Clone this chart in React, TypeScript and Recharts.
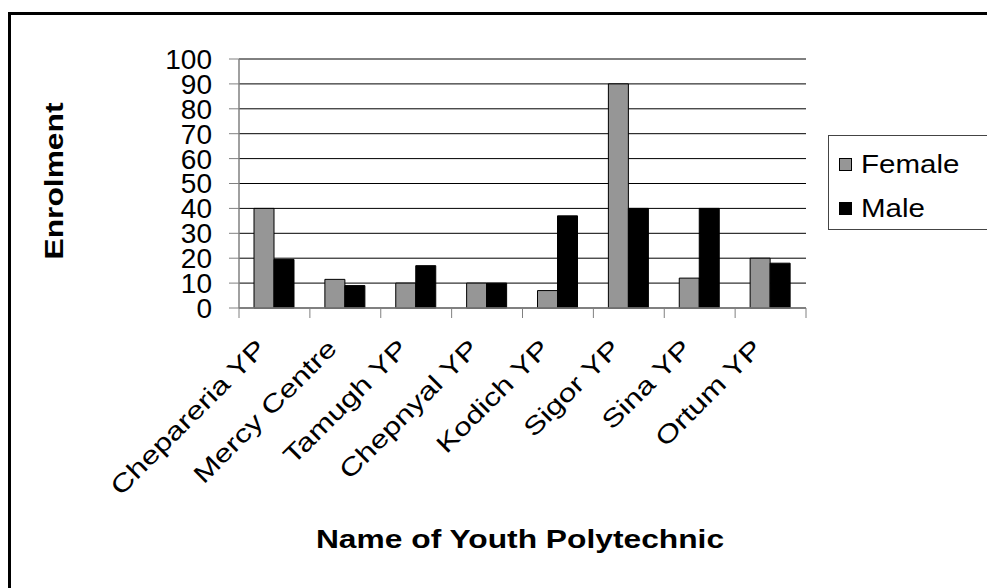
import { BarChart, Bar, XAxis, YAxis, CartesianGrid, Legend } from 'recharts'

const schools = ['Chepareria YP', 'Mercy Centre', 'Tamugh YP', 'Chepnyal YP', 'Kodich YP', 'Sigor YP', 'Sina YP', 'Ortum YP']
const female = [40, 11.5, 10, 10, 7, 90, 12, 20]
const male = [19.5, 9, 17, 10, 37, 40, 40, 18]
const yTicks = [0, 10, 20, 30, 40, 50, 60, 70, 80, 90, 100]

const data = schools.map((name, i) => ({ name, Female: female[i], Male: male[i] }))

const FONT = '"Liberation Sans", Arial, Helvetica, sans-serif'
const W = 987
const H = 588
const PLOT_LEFT = 239
const PLOT_RIGHT = 806
const PLOT_TOP = 59
const PLOT_BOTTOM = 308
const band = (PLOT_RIGHT - PLOT_LEFT) / schools.length
// the original's lettering is stretched along the text direction
const STRETCH = 1.27

const XTick = (props: any) => {
  const { x, y, payload } = props
  const idx = props.index ?? payload.index
  const half = band / 2
  const tx = x - 7
  const ty = y + 42
  return (
    <g>
      <line x1={x - half} x2={x - half} y1={y} y2={y + 10} stroke="#808080" />
      {idx === schools.length - 1 && (
        <line x1={x + half} x2={x + half} y1={y} y2={y + 10} stroke="#808080" />
      )}
      <g transform={`translate(${tx} ${ty}) rotate(-45) scale(${STRETCH} 1)`}>
        <text x={0} y={0} textAnchor="end" fontSize={25} fontFamily={FONT} fill="#000">
          {payload.value}
        </text>
      </g>
    </g>
  )
}

const LegendBox = (props: any) => {
  const { payload } = props
  return (
    <div
      style={{
        width: 160,
        height: 95,
        border: '1px solid #444',
        background: '#fff',
        boxSizing: 'border-box',
        paddingTop: 10,
        paddingLeft: 10,
        fontFamily: FONT,
        textAlign: 'left',
      }}
    >
      {payload.map((p: any) => (
        <div key={p.value} style={{ display: 'flex', alignItems: 'center', height: 36, marginBottom: 8 }}>
          <span
            style={{
              width: 11,
              height: 11,
              background: p.color,
              border: '1px solid #000',
              display: 'inline-block',
              marginRight: 9,
            }}
          />
          <span
            style={{
              fontSize: 25,
              color: '#000',
              display: 'inline-block',
              transform: 'scaleX(1.18)',
              transformOrigin: 'left center',
            }}
          >
            {p.value}
          </span>
        </div>
      ))}
    </div>
  )
}

export default function App() {
  return (
    <div style={{ position: 'absolute', left: 0, top: 0, width: W, height: H, overflow: 'hidden', background: '#fff' }}>
      <div
        style={{
          position: 'absolute',
          left: 8,
          top: 12,
          width: 1100,
          height: 700,
          border: '3px solid #000',
        }}
      />
      <BarChart
        width={W}
        height={H}
        data={data}
        margin={{ top: PLOT_TOP, right: W - PLOT_RIGHT, left: PLOT_LEFT - 70, bottom: 80 }}
        barGap={0}
        barSize={20}
        style={{ position: 'absolute', left: 0, top: 0 }}
      >
        <CartesianGrid vertical={false} horizontal stroke="#000" />
        <XAxis
          dataKey="name"
          height={H - PLOT_BOTTOM - 80}
          interval={0}
          tickLine={false}
          tickSize={0}
          tickMargin={0}
          axisLine={{ stroke: '#808080', strokeWidth: 1.5 }}
          tick={<XTick />}
        />
        <YAxis
          width={70}
          domain={[0, 100]}
          ticks={yTicks}
          interval={0}
          tickSize={10}
          tickMargin={17}
          tickLine={{ stroke: '#808080' }}
          axisLine={{ stroke: '#808080', strokeWidth: 1.5 }}
          tick={{ fontSize: 28, fill: '#000', fontFamily: FONT }}
        />
        <YAxis
          yAxisId="frame"
          orientation="right"
          width={0}
          domain={[0, 100]}
          tick={false}
          tickLine={false}
          axisLine={{ stroke: '#808080', strokeWidth: 1.5 }}
        />
        <Legend
          layout="vertical"
          align="center"
          verticalAlign="middle"
          content={<LegendBox />}
          wrapperStyle={{ position: 'absolute', left: 828, top: 135, width: 160, height: 95 }}
        />
        <Bar dataKey="Female" fill="#969696" stroke="#000" strokeWidth={1} isAnimationActive={false} />
        <Bar dataKey="Male" fill="#000" stroke="#000" strokeWidth={1} isAnimationActive={false} />
      </BarChart>
      <div
        style={{
          position: 'absolute',
          left: 54,
          top: 181,
          transform: `translate(-50%, -50%) rotate(-90deg) scaleX(${STRETCH})`,
          fontFamily: FONT,
          fontWeight: 'bold',
          fontSize: 25,
          whiteSpace: 'nowrap',
          color: '#000',
        }}
      >
        Enrolment
      </div>
      <div
        style={{
          position: 'absolute',
          left: 520,
          top: 539,
          transform: `translate(-50%, -50%) scaleX(${STRETCH})`,
          fontFamily: FONT,
          fontWeight: 'bold',
          fontSize: 25,
          whiteSpace: 'nowrap',
          color: '#000',
        }}
      >
        Name of Youth Polytechnic
      </div>
    </div>
  )
}
